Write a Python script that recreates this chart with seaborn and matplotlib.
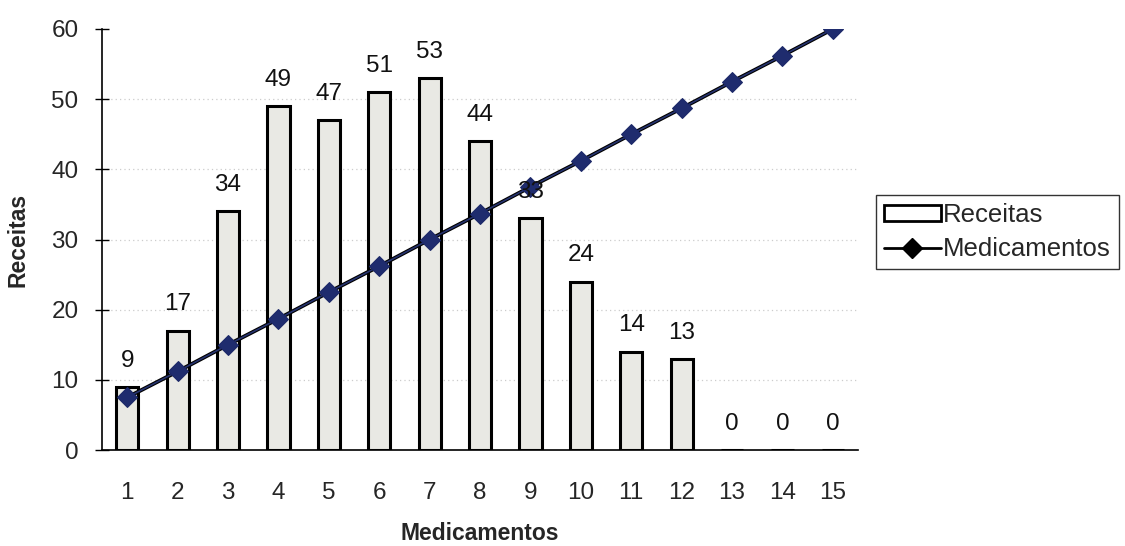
import matplotlib
matplotlib.use("Agg")
import matplotlib.pyplot as plt
from matplotlib.patches import Patch
from matplotlib.lines import Line2D
import numpy as np
import pandas as pd
import seaborn as sns

# Number of medications per prescription and prescription counts
medicamentos = [1, 2, 3, 4, 5, 6, 7, 8, 9, 10, 11, 12, 13, 14, 15]
receitas = [9, 17, 34, 49, 47, 51, 53, 44, 33, 24, 14, 13, 0, 0, 0]
linha_medicamentos = [7.5, 11.2, 15.0, 18.7, 22.5, 26.2, 30.0, 33.7, 37.5,
                      41.2, 45.0, 48.7, 52.5, 56.2, 60.0]
y_ticks = [0, 10, 20, 30, 40, 50, 60]

sns.set_style("white")
plt.rcParams["font.family"] = ["Liberation Sans", "DejaVu Sans"]

df = pd.DataFrame({"pos": np.arange(len(medicamentos)),
                   "Medicamentos": [str(m) for m in medicamentos],
                   "Receitas": receitas,
                   "Linha": linha_medicamentos})

fig = plt.figure(figsize=(11.25, 5.46), dpi=100)
ax = fig.add_axes([0.0907, 0.1758, 0.672, 0.7711])

# faint dotted grid
for yv in y_ticks[1:-1]:
    ax.axhline(yv, color="#cccccc", lw=0.9, ls=(0, (1, 2.5)), zorder=0)

sns.barplot(data=df, x="Medicamentos", y="Receitas", ax=ax, width=0.44,
            color="#e9e9e4", saturation=1, edgecolor="black", linewidth=2.2,
            zorder=2)

ax.plot(df["pos"], df["Linha"], color="black", lw=2.8, zorder=3)
sns.lineplot(data=df, x="pos", y="Linha", ax=ax, color="#26336f", lw=1.2,
             marker="D", markersize=10, markeredgecolor="#1c2868",
             markerfacecolor="#1f2c6e", zorder=4)

for p, v in zip(df["pos"], receitas):
    ax.annotate(str(v), (p, v), xytext=(0, 11), textcoords="offset points",
                ha="center", va="bottom", fontsize=17.5, color="#111111",
                zorder=5)

ax.set_xlim(-0.5, len(medicamentos) - 0.5)
ax.set_ylim(0, 60)
ax.set_yticks(y_ticks)
ax.set_yticklabels([str(t) for t in y_ticks], fontsize=17.5)
ax.set_xticks(df["pos"])
ax.set_xticklabels(df["Medicamentos"], fontsize=17.5)
ax.set_xticks(np.arange(-0.5, len(medicamentos) + 0.5, 1), minor=True)
ax.tick_params(axis="x", which="major", length=0, pad=23)
ax.tick_params(axis="x", which="minor", direction="inout", length=9,
               width=1, color="black")
ax.tick_params(axis="y", which="major", direction="inout", length=10,
               width=1, color="black", left=True, pad=12)

for s in ["top", "right"]:
    ax.spines[s].set_visible(False)
for s in ["left", "bottom"]:
    ax.spines[s].set_color("black")
    ax.spines[s].set_linewidth(1.2)

ax.set_xlabel("Medicamentos", fontsize=16.5, fontweight="bold", labelpad=13)
ax.set_ylabel("Receitas", fontsize=16.5, fontweight="bold", labelpad=16)

handles = [Patch(facecolor="white", edgecolor="black", linewidth=2),
           Line2D([0], [0], color="black", lw=2, marker="D", markersize=10,
                  markerfacecolor="black", markeredgecolor="black")]
leg = fig.legend(handles, ["Receitas", "Medicamentos"],
                 loc="upper left", bbox_to_anchor=(0.779, 0.642),
                 frameon=True, fancybox=False, fontsize=18.5,
                 handlelength=2.2, handleheight=0.6, handletextpad=0.1,
                 borderpad=0.3, labelspacing=0.4, borderaxespad=0)
leg.get_frame().set_edgecolor("black")
leg.get_frame().set_linewidth(1.0)

fig.savefig("out.png", dpi=100, facecolor="white")
